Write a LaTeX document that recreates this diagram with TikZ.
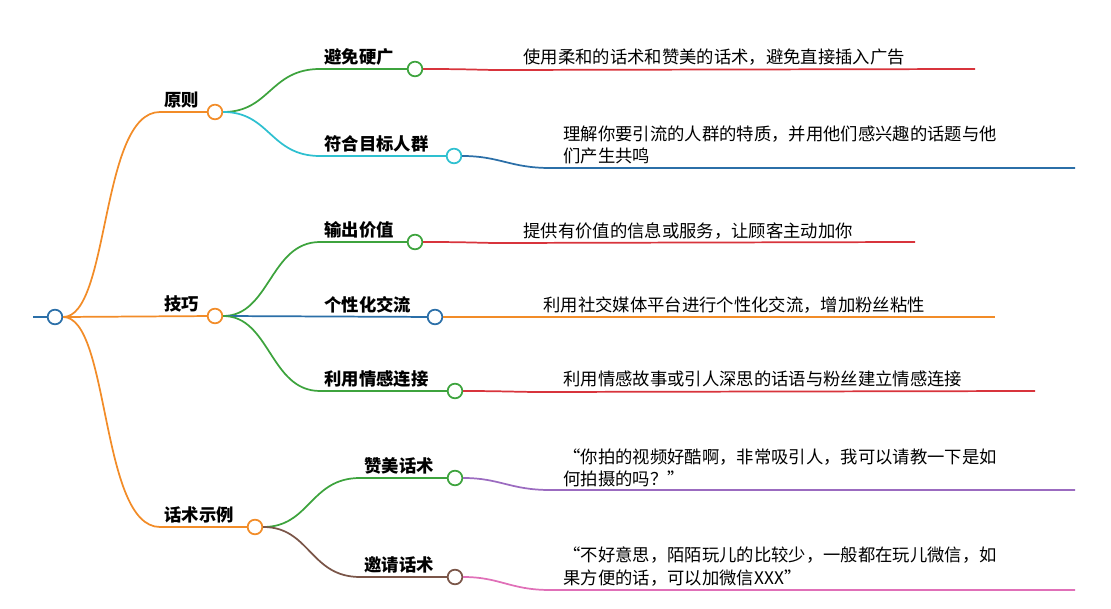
\documentclass[tikz,border=0pt]{standalone}
\usepackage{fontspec}
\setmainfont{Noto Sans CJK SC}
\definecolor{corange}{HTML}{F28C28}
\definecolor{cgreen}{HTML}{3DA33D}
\definecolor{ccyan}{HTML}{2EC0D0}
\definecolor{cblue}{HTML}{2B6FA8}
\definecolor{cred}{HTML}{D8343C}
\definecolor{cpurple}{HTML}{9B6BC0}
\definecolor{cbrown}{HTML}{7A5548}
\definecolor{cpink}{HTML}{E070B8}
\tikzset{
  dot/.style={circle, draw=#1, fill=white, line width=1.3pt, inner sep=0pt, minimum size=11pt},
  lbl/.style={font=\bfseries\fontsize{13}{15}\selectfont, anchor=south west, inner sep=1pt},
  txt/.style={font=\fontsize{13}{17}\selectfont, anchor=south west, inner sep=1pt, align=left},
  lnk/.style={line width=1.3pt, draw=#1}
}
\begin{document}
\begin{tikzpicture}[x=0.75pt,y=-0.75pt]
\useasboundingbox (0,0) rectangle (1111,609);

% root
\coordinate (rs) at (33,317);
\node[dot=cblue] (root) at (55,317) {};
\draw[lnk=cblue] (rs) -- (root);

% level 1
\node[dot=corange] (p1) at (215,112) {};
\node[dot=corange] (p2) at (215,316) {};
\node[dot=corange] (p3) at (255,527) {};
\node[lbl] (t1) at (163,110) {原则};
\node[lbl] (t2) at (163,314) {技巧};
\node[lbl] (t3) at (163,525) {话术示例};
\draw[lnk=corange] (root.east) .. controls (110,317) and (100,112) .. (160,112) -- (p1);
\draw[lnk=corange] (root.east) -- (p2);
\draw[lnk=corange] (root.east) .. controls (110,317) and (100,527) .. (160,527) -- (p3);

% level 2
\node[dot=cgreen] (a1) at (415,69) {};
\node[dot=ccyan] (a2) at (454,156) {};
\node[dot=cgreen] (b1) at (415,242) {};
\node[dot=cblue] (b2) at (435,317) {};
\node[dot=cgreen] (b3) at (455,391) {};
\node[dot=cgreen] (c1) at (455,478) {};
\node[dot=cbrown] (c2) at (455,577) {};
\node[lbl] at (323,67) {避免硬广};
\node[lbl] at (323,154) {符合目标人群};
\node[lbl] at (323,240) {输出价值};
\node[lbl] at (323,315) {个性化交流};
\node[lbl] at (323,389) {利用情感连接};
\node[lbl] at (363,476) {赞美话术};
\node[lbl] at (363,575) {邀请话术};

\draw[lnk=cgreen] (p1.east) .. controls (270,112) and (270,69) .. (320,69) -- (a1);
\draw[lnk=ccyan] (p1.east) .. controls (270,112) and (270,156) .. (320,156) -- (a2);
\draw[lnk=cgreen] (p2.east) .. controls (270,316) and (270,242) .. (320,242) -- (b1);
\draw[lnk=cblue] (p2.east) -- (b2);
\draw[lnk=cgreen] (p2.east) .. controls (270,316) and (270,391) .. (320,391) -- (b3);
\draw[lnk=cgreen] (p3.east) .. controls (310,527) and (310,478) .. (360,478) -- (c1);
\draw[lnk=cbrown] (p3.east) .. controls (310,527) and (310,577) .. (360,577) -- (c2);

% leaves
\coordinate (ea1) at (975,69);
\coordinate (ea2) at (1075,168);
\coordinate (eb1) at (915,242);
\coordinate (eb2) at (995,317);
\coordinate (eb3) at (1035,391);
\coordinate (ec1) at (1075,490);
\coordinate (ec2) at (1075,590);
\draw[lnk=cred] (a1.east) .. controls (470,69) and (480,70) .. (500,70) -- (ea1);
\draw[lnk=cblue] (a2.east) .. controls (500,156) and (510,168) .. (550,168) -- (ea2);
\draw[lnk=cred] (b1.east) .. controls (470,242) and (480,243) .. (500,243) -- (eb1);
\draw[lnk=corange] (b2.east) -- (eb2);
\draw[lnk=cred] (b3.east) .. controls (500,391) and (520,392) .. (540,392) -- (eb3);
\draw[lnk=cpurple] (c1.east) .. controls (500,478) and (510,490) .. (550,490) -- (ec1);
\draw[lnk=cpink] (c2.east) .. controls (500,577) and (510,590) .. (550,590) -- (ec2);

\node[txt] at (522,67) {使用柔和的话术和赞美的话术，避免直接插入广告};
\node[txt] at (562,166) {理解你要引流的人群的特质，并用他们感兴趣的话题与他\\们产生共鸣};
\node[txt] at (522,241) {提供有价值的信息或服务，让顾客主动加你};
\node[txt] at (542,315) {利用社交媒体平台进行个性化交流，增加粉丝粘性};
\node[txt] at (562,389) {利用情感故事或引人深思的话语与粉丝建立情感连接};
\node[txt] at (562,489) {“你拍的视频好酷啊，非常吸引人，我可以请教一下是如\\何拍摄的吗？”};
\node[txt] at (562,588) {“不好意思，陌陌玩儿的比较少，一般都在玩儿微信，如\\果方便的话，可以加微信XXX”};
\end{tikzpicture}
\end{document}
